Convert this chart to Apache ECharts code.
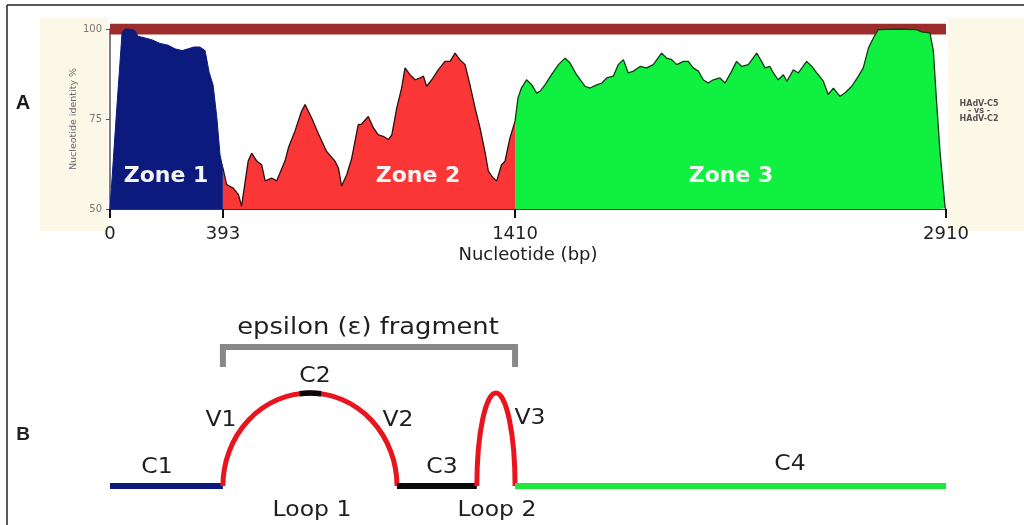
<!DOCTYPE html>
<html>
<head>
<meta charset="utf-8">
<script src="https://cdn.jsdelivr.net/npm/echarts@6/dist/echarts.min.js"></script>
<style>
  html, body { margin: 0; padding: 0; background: #fff; }
  #main { width: 1024px; height: 525px; }
</style>
</head>
<body>
<div id="main"></div>
<script>
// Nucleotide identity profile (HAdV-C5 vs HAdV-C2), split into three zones
const zoneNames = ['Zone 1', 'Zone 2', 'Zone 3'];
const zoneBounds = [0, 393, 1410, 2910];
const xTickValues = [0, 393, 1410, 2910];
const yTickValues = [50, 75, 100];

const zone1X = [0, 21, 42, 52, 70, 87, 97, 122, 146, 174, 202, 226, 251, 272, 292, 313, 331, 345, 359, 372, 383, 393];
const zone1Y = [50, 75, 99, 100, 100, 99.5, 98, 97.5, 97, 96, 95.5, 94.5, 94, 94.5, 95, 95, 94, 88, 84.4, 75.3, 65, 61.4];

const zone2X = [393, 406, 429, 447, 458, 481, 493, 511, 528, 540, 563, 580, 609, 621, 644, 667, 679, 702, 725, 754,
  783, 795, 806, 824, 841, 864, 876, 899, 917, 934, 951, 969, 981, 998, 1015, 1027, 1044, 1062, 1079, 1091,
  1102, 1120, 1143, 1166, 1184, 1201, 1218, 1236, 1253, 1271, 1288, 1305, 1317, 1334, 1346, 1363, 1375, 1392, 1410];
const zone2Y = [61.4, 56.8, 55.8, 54, 50.8, 63.3, 65.5, 63.3, 62.3, 57.8, 58.6, 57.8, 63.3, 67, 71.7, 77.2, 79, 75.3, 71, 66,
  63.3, 61.4, 56.4, 59.5, 64, 73.4, 73.6, 75.7, 72.5, 70.6, 70.2, 69.3, 70.6, 78, 83.6, 89.2, 87.3, 85.9, 86.4, 86.9,
  84.1, 85.9, 88.7, 91, 91, 93.3, 91.5, 90.1, 84.5, 78, 72.5, 66, 60.5, 58.6, 57.8, 62.3, 63.3, 69.7, 74.4];

const zone3X = [1410, 1420, 1432, 1450, 1468, 1485, 1497, 1514, 1537, 1561, 1584, 1601, 1624, 1653, 1671, 1694, 1712, 1729, 1752, 1769,
  1787, 1804, 1822, 1845, 1868, 1891, 1920, 1938, 1955, 1973, 1996, 2013, 2030, 2048, 2065, 2082, 2100, 2123, 2141, 2164,
  2181, 2199, 2222, 2251, 2268, 2280, 2297, 2309, 2326, 2344, 2356, 2379, 2396, 2425, 2443, 2460, 2483, 2500, 2518, 2541,
  2558, 2582, 2605, 2622, 2640, 2657, 2674, 2744, 2808, 2825, 2854, 2866, 2877, 2889, 2907, 2910];
const zone3Y = [74.4, 80.8, 83.6, 85.9, 84.5, 82.2, 82.7, 84.5, 87.3, 90.1, 91.9, 90.6, 87.3, 84.1, 83.6, 84.5, 85, 86.4, 86.9, 90.1,
  91.5, 87.8, 88.3, 89.6, 89.2, 90.1, 93.3, 91.9, 91.5, 90.1, 91, 91, 89.2, 88.3, 85.9, 85, 85.9, 86.4, 85, 88.3,
  91, 89.6, 90.1, 93.3, 91, 89.2, 89.6, 87.8, 85.9, 87.3, 85.5, 88.7, 87.8, 91, 89.6, 87.8, 85.5, 81.8, 83.6, 81.3,
  82.2, 84.1, 86.9, 89.2, 94.7, 97.5, 99.8, 100, 99.8, 99.2, 98.9, 93.9, 80, 66, 50.3, 50];

// Reference identity level drawn as a band across the profile
const fullIdentity = 100;

// Hexon gene schematic: constant (C) and variable loop regions along the same nucleotide axis
const schemeParts = ['C1', 'Loop 1', 'C3', 'Loop 2', 'C4'];
const schemeBounds = [0, 393, 999, 1277, 1410, 2910];
const c2Span = [660, 735];
const epsilonSpan = [393, 1410];

const FONT = 'DejaVu Sans';

const zoneColors = ['#0c1a7e', '#fb3636', '#0ff040'];
const zoneLines = ['#0c1a7e', '#2a1010', '#123a12'];
const partStyle = {
  'C1': { kind: 'line', color: '#0c1a7e' },
  'Loop 1': { kind: 'loop', color: '#e8141e' },
  'C3': { kind: 'line', color: '#0a0a0a' },
  'Loop 2': { kind: 'loop', color: '#e8141e' },
  'C4': { kind: 'line', color: '#1fe83c' }
};

const zip = (xs, ys) => xs.map((x, i) => [x, ys[i]]);
const zoneData = [zip(zone1X, zone1Y), zip(zone2X, zone2Y), zip(zone3X, zone3Y)];

const zoneSeries = zoneData.map((d, i) => ({
  name: zoneNames[i],
  type: 'line',
  xAxisIndex: 0, yAxisIndex: 0,
  data: d,
  symbol: 'none',
  smooth: false,
  z: 3,
  lineStyle: { color: zoneLines[i], width: i === 0 ? 1 : 1.3 },
  areaStyle: { color: zoneColors[i], opacity: 1, origin: 'start' },
  silent: true
}));

// Pieces of the schematic, built from the part list
const pieces = [];
schemeParts.forEach((p, i) => {
  pieces.push({ kind: partStyle[p].kind, color: partStyle[p].color, s: schemeBounds[i], e: schemeBounds[i + 1] });
});
const loop1 = pieces[1];
pieces.push({ kind: 'cap', color: '#0a0a0a', s: c2Span[0], e: c2Span[1] });
pieces.push({ kind: 'bracket', color: '#888888', s: epsilonSpan[0], e: epsilonSpan[1] });

function renderPiece(params, api) {
  const pc = pieces[params.dataIndex];
  const b0 = api.coord([pc.s, 0]);
  const b1 = api.coord([pc.e, 0]);
  const topY = api.coord([pc.s, 1])[1];
  if (pc.kind === 'line') {
    return { type: 'line', shape: { x1: b0[0], y1: b0[1], x2: b1[0], y2: b1[1] },
      style: { stroke: pc.color, lineWidth: 6, lineCap: 'butt' } };
  }
  if (pc.kind === 'loop') {
    const rx = (b1[0] - b0[0]) / 2, ry = b0[1] - topY;
    return { type: 'path', shape: { pathData: `M ${b0[0]} ${b0[1]} A ${rx} ${ry} 0 0 1 ${b1[0]} ${b1[1]}` },
      style: { stroke: pc.color, fill: null, lineWidth: 5 } };
  }
  if (pc.kind === 'cap') {
    const l0 = api.coord([loop1.s, 0]), l1 = api.coord([loop1.e, 0]);
    const cx = (l0[0] + l1[0]) / 2, rx = (l1[0] - l0[0]) / 2, ry = l0[1] - topY;
    const yAt = x => l0[1] - ry * Math.sqrt(Math.max(0, 1 - Math.pow((x - cx) / rx, 2)));
    return { type: 'path', shape: { pathData: `M ${b0[0]} ${yAt(b0[0])} A ${rx} ${ry} 0 0 1 ${b1[0]} ${yAt(b1[0])}` },
      style: { stroke: pc.color, fill: null, lineWidth: 5.5 } };
  }
  // bracket over the epsilon fragment
  const yTop = api.coord([pc.s, 1.495])[1];
  const yLeg = api.coord([pc.s, 1.28])[1];
  return { type: 'polyline', shape: { points: [[b0[0], yLeg], [b0[0], yTop], [b1[0], yTop], [b1[0], yLeg]] },
    style: { stroke: pc.color, fill: null, lineWidth: 6, lineJoin: 'miter' } };
}

// Text helper; a slight horizontal stretch gives the wide, geometric look of the labels
function txt(text, x, y, size, opts, stretch) {
  return {
    type: 'text', x: x, y: y, z: 10, silent: true,
    scaleX: stretch || 1,
    style: Object.assign({ text: text, font: `${size}px "${FONT}"`, fill: '#1e1e1e', align: 'center', verticalAlign: 'middle' }, (opts || {}))
  };
}

const chart = echarts.init(document.getElementById('main'));
chart.setOption({
  backgroundColor: '#ffffff',
  animation: false,
  grid: [
    { left: 110, right: 78, top: 29, height: 180 },
    { left: 110, right: 78, top: 393, height: 93 }
  ],
  xAxis: [
    {
      type: 'value', gridIndex: 0, min: 0, max: 2910,
      splitLine: { show: false },
      axisLine: { show: true, lineStyle: { color: '#3a3a3a', width: 1 } },
      axisTick: { show: true, customValues: xTickValues, length: 9, lineStyle: { color: '#111', width: 2 } },
      axisLabel: { customValues: xTickValues, fontSize: 18, color: '#222', margin: 16, fontFamily: FONT,
        formatter: v => String(v) },
      name: 'Nucleotide (bp)', nameLocation: 'middle', nameGap: 37, nameMoveOverlap: false,
      nameTextStyle: { fontSize: 18, color: '#222', fontFamily: FONT }
    },
    { type: 'value', gridIndex: 1, min: 0, max: 2910, show: false }
  ],
  yAxis: [
    {
      type: 'value', gridIndex: 0, min: 50, max: 100, interval: 25,
      splitLine: { show: false },
      axisLine: { show: true, lineStyle: { color: '#555', width: 1.5 } },
      axisTick: { show: true, length: 4, lineStyle: { color: '#555' } },
      axisLabel: { fontSize: 10, color: '#777', margin: 8, fontFamily: FONT,
        customValues: yTickValues },
      name: 'Nucleotide identity %', nameLocation: 'middle', nameGap: 31, nameMoveOverlap: false,
      nameTextStyle: { fontSize: 9.5, color: '#666', fontFamily: FONT }
    },
    { type: 'value', gridIndex: 1, min: 0, max: 1, show: false }
  ],
  series: [
    {
      type: 'line', xAxisIndex: 0, yAxisIndex: 0, z: 1, silent: true,
      data: [[zoneBounds[0], fullIdentity], [zoneBounds[3], fullIdentity]],
      symbol: 'none', lineStyle: { color: '#9c2c2c', width: 11, cap: 'butt' }
    },
    ...zoneSeries,
    {
      type: 'custom', xAxisIndex: 1, yAxisIndex: 1, clip: false, silent: true, z: 4,
      data: pieces.map((p, i) => [p.s, p.e, i]),
      renderItem: renderPiece
    }
  ],
  graphic: [
    // frame and side panels
    { type: 'rect', z: -1, silent: true, shape: { x: 40, y: 18, width: 68, height: 213 }, style: { fill: '#fcf8e7' } },
    { type: 'rect', z: -1, silent: true, shape: { x: 948, y: 18, width: 76, height: 213 }, style: { fill: '#fcf8e7' } },
    { type: 'line', z: 10, silent: true, shape: { x1: 7, y1: 5, x2: 1024, y2: 5 }, style: { stroke: '#222', lineWidth: 1.5 } },
    { type: 'line', z: 10, silent: true, shape: { x1: 7, y1: 5, x2: 7, y2: 525 }, style: { stroke: '#222', lineWidth: 1.5 } },
    // panel letters
    txt('A', 23, 103, 20, { font: `bold 20px "Liberation Sans"`, fill: '#1a1a1a' }),
    txt('B', 23, 435, 19, { font: `bold 19px "Liberation Sans"`, fill: '#222' }),
    // comparison note
    txt('HAdV-C5\n- vs -\nHAdV-C2', 979, 111, 8, { font: `bold 8px "${FONT}"`, fill: '#555', lineHeight: 7.5 }),
    // zone names
    txt(zoneNames[0], 166, 176, 22, { font: `bold 22px "${FONT}"`, fill: '#f4f4f4' }),
    txt(zoneNames[1], 418, 176, 22, { font: `bold 22px "${FONT}"`, fill: '#f4f4f4' }),
    txt(zoneNames[2], 731, 176, 22, { font: `bold 22px "${FONT}"`, fill: '#f4f4f4' }),
    // schematic labels
    txt('epsilon (\u03b5) fragment', 368, 328, 23, null, 1.12),
    txt('C1', 157, 468, 21, null, 1.12),
    txt('V1', 221, 421, 21, null, 1.12),
    txt('C2', 315, 377, 21, null, 1.12),
    txt('V2', 398, 421, 21, null, 1.12),
    txt('C3', 442, 468, 21, null, 1.12),
    txt('V3', 530, 419, 21, null, 1.12),
    txt('C4', 790, 465, 21, null, 1.12),
    txt('Loop 1', 312, 511, 21, null, 1.12),
    txt('Loop 2', 497, 511, 21, null, 1.12)
  ]
});
</script>
</body>
</html>
